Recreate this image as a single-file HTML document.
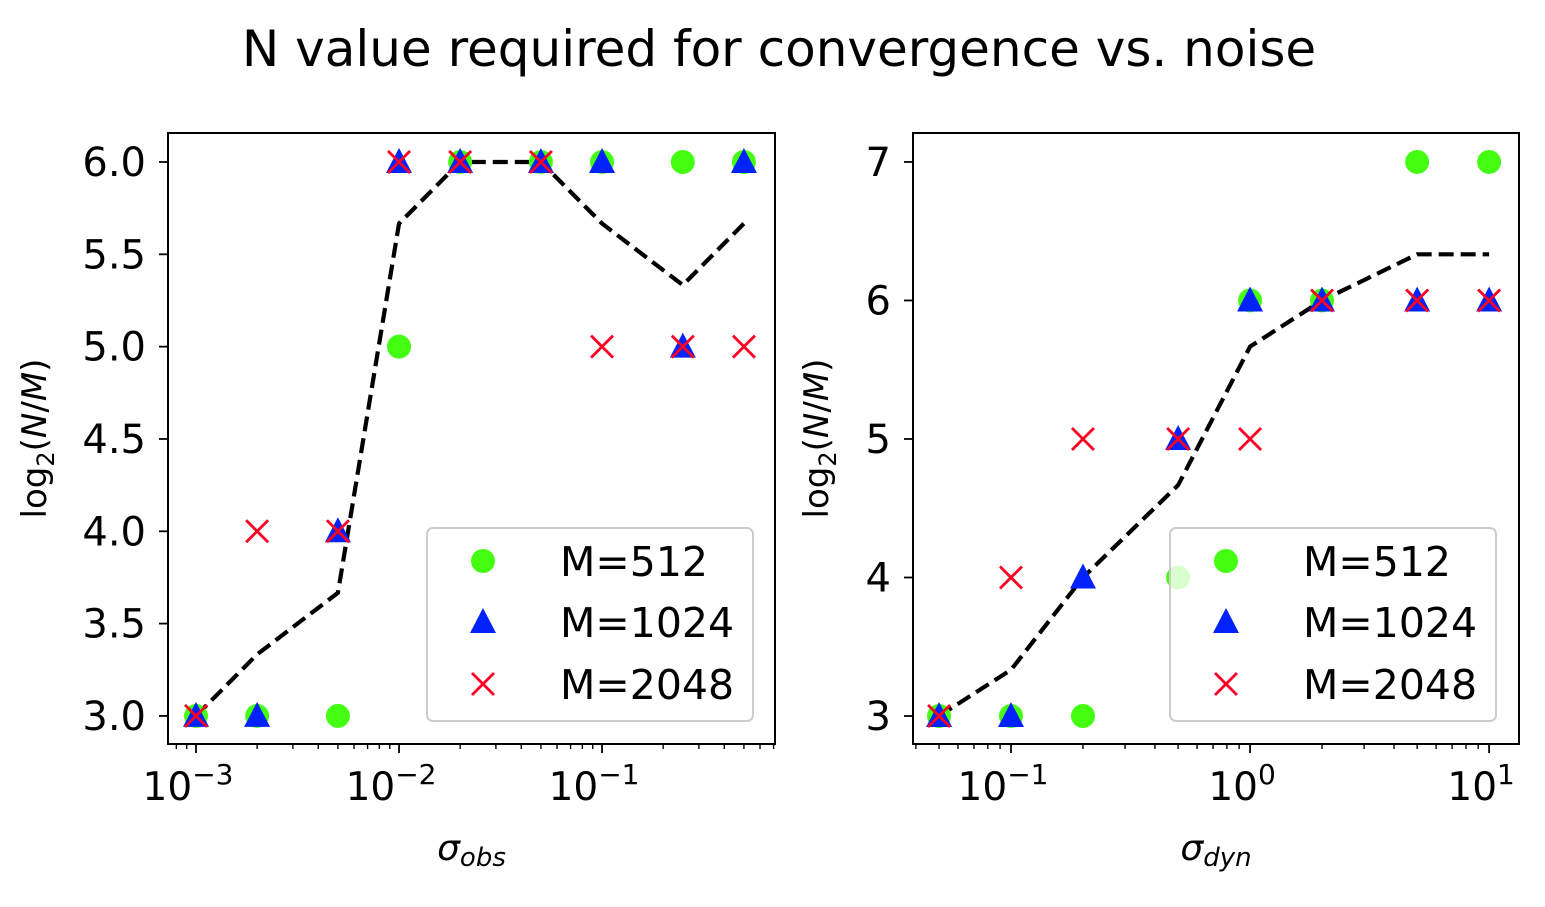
<!DOCTYPE html>
<html><head><meta charset="utf-8"><style>
body{margin:0;background:#fff}
svg text{font-family:"DejaVu Sans","Liberation Sans",sans-serif;fill:#000}
</style></head><body>
<svg id="chart" width="1545" height="902" xmlns="http://www.w3.org/2000/svg">
<text x="779" y="66" font-size="50" text-anchor="middle">N value required for convergence vs. noise</text>
</svg>
<script>
const leftX=[0.001,0.002,0.005,0.01,0.02,0.05,0.1,0.25,0.5];
const left512=[3,3,3,5,6,6,6,6,6];
const left1024=[3,3,4,6,6,6,6,5,6];
const left2048=[3,4,4,6,6,6,5,5,5];
const rightX=[0.05,0.1,0.2,0.5,1,2,5,10];
const right512=[3,3,3,4,6,6,7,7];
const right1024=[3,3,4,5,6,6,6,6];
const right2048=[3,4,5,5,5,6,6,6];
const leftYTicks=[3.0,3.5,4.0,4.5,5.0,5.5,6.0];
const rightYTicks=[3,4,5,6,7];
const leftXTicks=[-3,-2,-1];
const rightXTicks=[-1,0,1];

const NS="http://www.w3.org/2000/svg";
const svg=document.getElementById('chart');
function mk(t,a,p){const e=document.createElementNS(NS,t);for(const k in a)e.setAttribute(k,a[k]);(p||svg).appendChild(e);return e;}
const GREEN="#44ff11",BLUE="#0022ff",RED="#ff0022";

function panel(cfg){
  const g=mk('g',{});
  
  
  const {x0,x1,y0,y1,lx0,lx1,vy0,vy1}=cfg;
  const sx=v=>x0+(Math.log10(v)-lx0)/(lx1-lx0)*(x1-x0);
  const sy=v=>y1-(v-vy0)/(vy1-vy0)*(y1-y0);
  for(let d=Math.floor(lx0);d<=Math.ceil(lx1);d++){
    for(let m=2;m<10;m++){const lv=d+Math.log10(m);if(lv<lx0||lv>lx1)continue;
      const x=sx(Math.pow(10,lv));const t=mk('line',{x1:x,x2:x,y1:y1,y2:y1+5,stroke:'#000','stroke-width':1.4},g);
      }
  }
  cfg.xticks.forEach(p=>{const x=sx(Math.pow(10,p));
    const t=mk('line',{x1:x,x2:x,y1:y1,y2:y1+9,stroke:'#000','stroke-width':1.8},g);
    
    const tx=mk('text',{x:x-8,y:y1+56,'font-size':39,'text-anchor':'middle'},g);
    
    tx.textContent='10';
    const sp=mk('tspan',{dy:-16,'font-size':28},tx);sp.textContent=p<0?'\u2212'+(-p):String(p);
  });
  cfg.yticks.forEach(v=>{const y=sy(v);
    const t=mk('line',{x1:x0,x2:x0-9,y1:y,y2:y,stroke:'#000','stroke-width':1.8},g);
    
    const tx=mk('text',{x:x0-22,y:y+14,'font-size':40,'text-anchor':'end'},g);
    
    tx.textContent=cfg.fmt(v);
  });
  const mean=cfg.xs.map((_,i)=>(cfg.a[i]+cfg.b[i]+cfg.c[i])/3);
  const pl=mk('polyline',{points:cfg.xs.map((x,i)=>sx(x)+','+sy(mean[i])).join(' '),fill:'none',stroke:'#000','stroke-width':4.2,'stroke-dasharray':'15,7'},g);
  
  cfg.xs.forEach((x,i)=>{const c=mk('circle',{cx:sx(x),cy:sy(cfg.a[i]),r:12,fill:GREEN},g);
    });
  cfg.xs.forEach((x,i)=>{const X=sx(x),Y=sy(cfg.b[i]);
    const p=mk('polygon',{points:`${X},${Y-14} ${X-13},${Y+11} ${X+13},${Y+11}`,fill:BLUE},g);
    });
  cfg.xs.forEach((x,i)=>{const X=sx(x),Y=sy(cfg.c[i]);
    const p=mk('path',{d:`M${X-11},${Y-11}L${X+11},${Y+11}M${X-11},${Y+11}L${X+11},${Y-11}`,stroke:RED,'stroke-width':2.8},g);
    });
  const fr=mk('rect',{x:x0,y:y0,width:x1-x0,height:y1-y0,fill:'none',stroke:'#000','stroke-width':2},g);
  
  const L=cfg.leg;
  const lg=mk('g',{},g);
  mk('rect',{x:L,y:528,width:326,height:193,rx:6,fill:'#fff','fill-opacity':0.8,stroke:'#ccc','stroke-width':2},lg);
  const ex=L+56;
  mk('circle',{cx:ex,cy:561,r:12,fill:GREEN},lg);
  mk('polygon',{points:`${ex},${608} ${ex-13},${633} ${ex+13},${633}`,fill:BLUE},lg);
  mk('path',{d:`M${ex-11},673L${ex+11},695M${ex-11},695L${ex+11},673`,stroke:RED,'stroke-width':2.8},lg);
  [['M=512',561],['M=1024',622],['M=2048',684]].forEach(([t,y])=>{
    const tx=mk('text',{x:L+133,y:y+15,'font-size':41},lg);tx.textContent=t;
    });
  const yl=mk('text',{x:0,y:0,'font-size':34,'text-anchor':'middle',transform:`translate(${cfg.ylx},${(y0+y1)/2}) rotate(-90)`},g);
  
  yl.innerHTML='log<tspan font-size="24" dy="8">2</tspan><tspan dy="-8">(</tspan><tspan font-style="italic">N</tspan>/<tspan font-style="italic">M</tspan>)';
  const xl=mk('text',{x:(x0+x1)/2,y:860,'font-size':36,'text-anchor':'middle','font-style':'italic'},g);
  
  xl.innerHTML='σ<tspan font-size="26" dy="6">'+cfg.sub+'</tspan>';
}
panel({name:'left-panel',x0:168,x1:775,y0:133,y1:744,lx0:-3.138,lx1:-0.148,vy0:2.848,vy1:6.157,
  xs:leftX,a:left512,b:left1024,c:left2048,yticks:leftYTicks,xticks:leftXTicks,fmt:v=>v.toFixed(1),leg:427,ylx:46,sub:'obs'});
panel({name:'right-panel',x0:913,x1:1519,y0:133,y1:744,lx0:-1.41,lx1:1.125,vy0:2.798,vy1:7.209,
  xs:rightX,a:right512,b:right1024,c:right2048,yticks:rightYTicks,xticks:rightXTicks,fmt:v=>String(v),leg:1170,ylx:828,sub:'dyn'});
</script>
</body></html>
